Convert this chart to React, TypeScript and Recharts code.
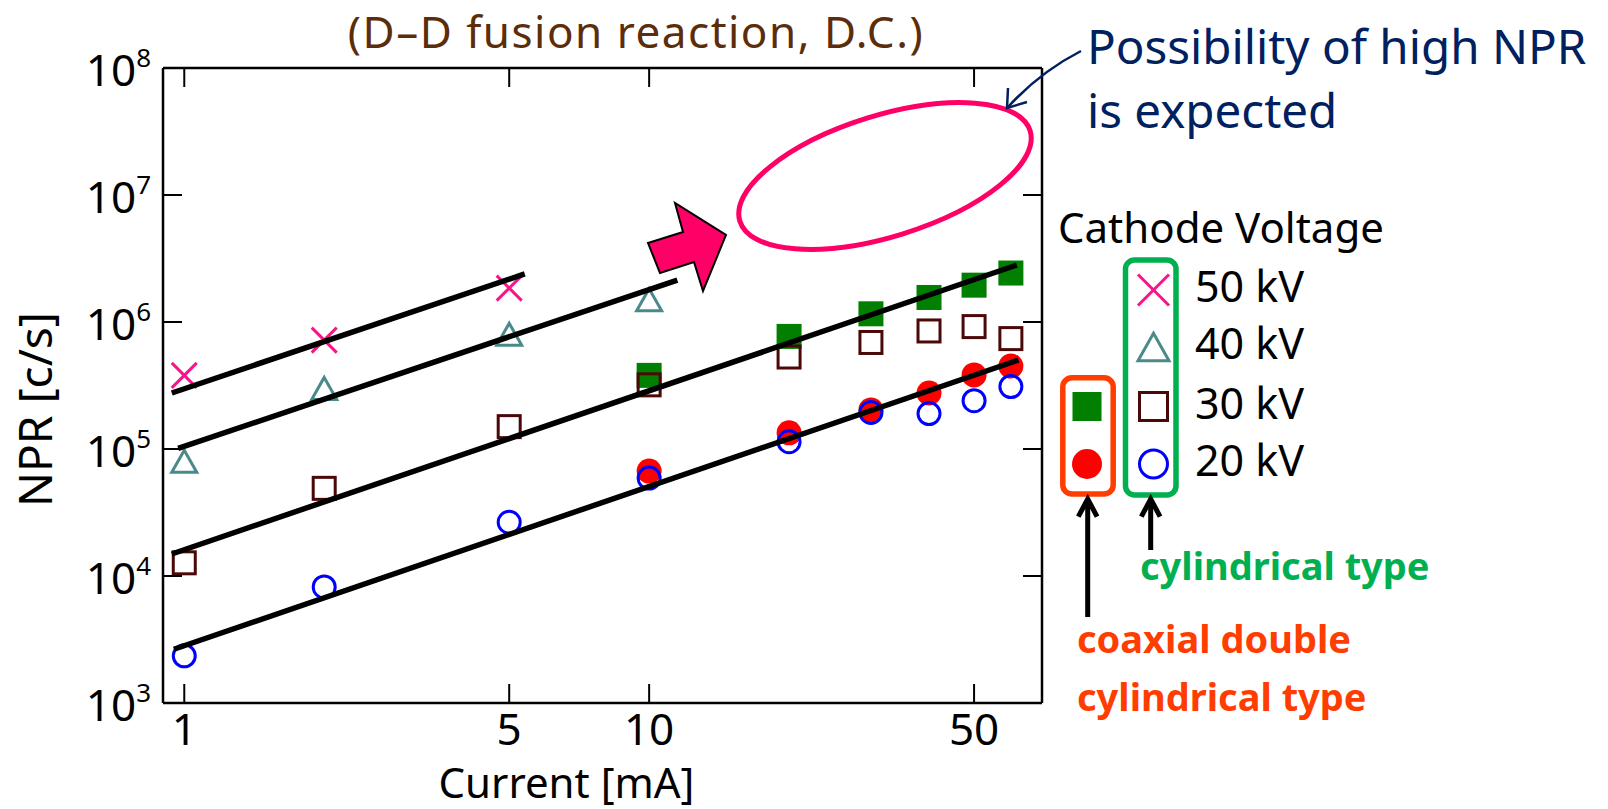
import React from "react";
import { ScatterChart, Scatter, XAxis, YAxis, ReferenceLine } from "recharts";

const FONT = "'Noto Sans', 'Liberation Sans', sans-serif";

// cylindrical type, current [mA] vs NPR [c/s]
const currents = [1, 2, 5, 10, 20, 30, 40, 50, 60];
const cyl50kV = [3.8e5, 7.2e5, 1.85e6];
const cyl40kV = [8.0e4, 3.0e5, 8.0e5, 1.5e6];
const cyl30kV = [1.27e4, 4.9e4, 1.5e5, 3.2e5, 5.3e5, 6.9e5, 8.5e5, 9.2e5, 7.4e5];
const cyl20kV = [2.35e3, 8.2e3, 2.65e4, 5.9e4, 1.14e5, 1.94e5, 1.9e5, 2.4e5, 3.1e5];

// coaxial double cylindrical type
const coaxCurrents = [10, 20, 30, 40, 50, 60];
const coax30kV = [3.8e5, 7.7e5, 1.16e6, 1.56e6, 1.95e6, 2.43e6];
const coax20kV = [6.7e4, 1.34e5, 2.03e5, 2.76e5, 3.83e5, 4.5e5];

// power-law fit lines: [current, NPR] end points
const fit50kV = [[0.94, 2.76e5], [5.4, 2.39e6]];
const fit40kV = [[0.97, 1.01e5], [11.5, 2.14e6]];
const fit30kV = [[0.94, 1.49e4], [61.8, 2.81e6]];
const fit20kV = [[0.95, 2.65e3], [62.3, 5.02e5]];

const currentTicks = [1, 5, 10, 50];
const nprTicks = [1e3, 1e4, 1e5, 1e6, 1e7, 1e8];
const voltageLabels = ["50 kV", "40 kV", "30 kV", "20 kV"];

const PINK = "#F7168A";
const TEAL = "#4A8A8A";
const BROWN = "#4A0808";
const BLUE = "#0000FF";
const GREEN = "#007F00";
const RED = "#FF0000";
const HOT = "#FF0066";
const NAVY = "#002060";
const CYL_GREEN = "#00B050";
const COAX_RED = "#FF3D00";

const W = 1608;
const H = 809;
const PLOT = { left: 163, right: 1042, top: 68, bottom: 703 };
const TICK_LEN = 19;

const toPoints = (xs: number[], ys: number[]) => ys.map((y, i) => ({ x: xs[i], y }));
const toLine = (pts: number[][]) => pts.map(([x, y]) => ({ x, y }));

type Kind = "cross" | "triangle" | "square" | "circle" | "filledSquare" | "filledCircle";

function Marker({ kind, cx, cy, size, color }: { kind: Kind; cx: number; cy: number; size: number; color: string }) {
  const h = size / 2;
  switch (kind) {
    case "cross":
      return (
        <g stroke={color} strokeWidth={3}>
          <line x1={cx - h} y1={cy - h} x2={cx + h} y2={cy + h} />
          <line x1={cx - h} y1={cy + h} x2={cx + h} y2={cy - h} />
        </g>
      );
    case "triangle": {
      const th = size * 0.88;
      return (
        <polygon
          points={`${cx},${cy - th / 2} ${cx + h},${cy + th / 2} ${cx - h},${cy + th / 2}`}
          fill="none"
          stroke={color}
          strokeWidth={3}
        />
      );
    }
    case "square":
      return <rect x={cx - h + 1.5} y={cy - h + 1.5} width={size - 3} height={size - 3} fill="none" stroke={color} strokeWidth={3} />;
    case "circle":
      return <circle cx={cx} cy={cy} r={h - 1.5} fill="none" stroke={color} strokeWidth={3} />;
    case "filledSquare":
      return <rect x={cx - h} y={cy - h} width={size} height={size} fill={color} />;
    default:
      return <circle cx={cx} cy={cy} r={h} fill={color} />;
  }
}

const markerShape = (kind: Kind, color: string) => (props: any) =>
  <Marker kind={kind} cx={props.cx} cy={props.cy} size={25} color={color} />;

function CurrentTick({ x, y, payload }: any) {
  return (
    <g>
      <line x1={x} x2={x} y1={PLOT.bottom} y2={PLOT.bottom - TICK_LEN} stroke="#000" strokeWidth={2} />
      <line x1={x} x2={x} y1={PLOT.top} y2={PLOT.top + TICK_LEN} stroke="#000" strokeWidth={2} />
      <text x={x} y={y + 42} textAnchor="middle" fontSize={44} fontFamily={FONT} fill="#000">
        {payload.value}
      </text>
    </g>
  );
}

function NprTick({ x, y, payload }: any) {
  const exp = Math.round(Math.log10(payload.value));
  return (
    <g>
      <line x1={PLOT.left} x2={PLOT.left + TICK_LEN} y1={y} y2={y} stroke="#000" strokeWidth={2} />
      <line x1={PLOT.right} x2={PLOT.right - TICK_LEN} y1={y} y2={y} stroke="#000" strokeWidth={2} />
      <text x={x - 12} y={y + 18} textAnchor="end" fontSize={44} fontFamily={FONT} fill="#000">
        10
        <tspan fontSize={26} dy={-19}>
          {exp}
        </tspan>
      </text>
    </g>
  );
}

function CurrentTitle({ viewBox }: any) {
  const vb = viewBox ?? { x: PLOT.left, y: PLOT.bottom, width: PLOT.right - PLOT.left, height: H - PLOT.bottom };
  return (
    <text x={vb.x + vb.width / 2 - 36} y={vb.y + 95} textAnchor="middle" fontSize={42} fontFamily={FONT} fill="#000">
      Current [mA]
    </text>
  );
}

function NprTitle({ viewBox }: any) {
  const vb = viewBox ?? { x: 0, y: PLOT.top, width: PLOT.left, height: PLOT.bottom - PLOT.top };
  const cy = vb.y + vb.height / 2 + 24;
  return (
    <text transform={`translate(${vb.x + 52}, ${cy}) rotate(-90)`} textAnchor="middle" fontSize={46} fontFamily={FONT} fill="#000">
      NPR [c/s]
    </text>
  );
}

function Annotations() {
  const cylKinds: Kind[] = ["cross", "triangle", "square", "circle"];
  const cylColors = [PINK, TEAL, BROWN, BLUE];
  const rowY = [290, 347, 406.5, 464];
  return (
    <svg width={W} height={H} style={{ position: "absolute", left: 0, top: 0, pointerEvents: "none" }} fontFamily={FONT}>
      <text x={636} y={48} textAnchor="middle" fontSize={44} fill="#5C2D0A" letterSpacing={1.5}>
        (D–D fusion reaction, D.C.)
      </text>

      {/* expected region */}
      <ellipse cx={885} cy={176} rx={152} ry={60.5} transform="rotate(-17.3 885 176)" fill="none" stroke={HOT} strokeWidth={5} />
      <polygon
        points="648,243 683,232 675,203 726,235 703,291 694,262 660,273"
        fill={HOT}
        stroke="#000"
        strokeWidth={2}
        strokeLinejoin="miter"
      />

      <text x={1087} y={64} fontSize={47.5} fill={NAVY}>Possibility of high NPR</text>
      <text x={1087} y={128} fontSize={47.5} fill={NAVY}>is expected</text>
      <path d="M1081,51 Q1040,72 1008,107" fill="none" stroke={NAVY} strokeWidth={2.5} />
      <polyline points="1008,88 1007,108 1027,102" fill="none" stroke={NAVY} strokeWidth={2.5} />

      {/* legend */}
      <text x={1058} y={243} fontSize={42} fill="#000">Cathode Voltage</text>
      <rect x={1125.5} y={260} width={50.5} height={235} rx={9} fill="none" stroke={CYL_GREEN} strokeWidth={5.5} />
      <rect x={1062.8} y={377.8} width={50.4} height={116.2} rx={9} fill="none" stroke={COAX_RED} strokeWidth={5.5} />
      {voltageLabels.map((label, i) => (
        <g key={label}>
          <Marker kind={cylKinds[i]} cx={1153.5} cy={rowY[i]} size={31} color={cylColors[i]} />
          <text x={1195} y={rowY[i] + 12} fontSize={43} fill="#000">{label}</text>
        </g>
      ))}
      <Marker kind="filledSquare" cx={1087} cy={rowY[2]} size={29} color={GREEN} />
      <Marker kind="filledCircle" cx={1087} cy={rowY[3]} size={30} color={RED} />

      <g stroke="#000" strokeWidth={5} fill="none">
        <line x1={1087.7} y1={617} x2={1087.7} y2={501} />
        <polyline points="1078.3,516.7 1087.7,499 1097.1,516.7" />
        <line x1={1150.7} y1={550} x2={1150.7} y2={501} />
        <polyline points="1141.3,516.7 1150.7,499 1160.1,516.7" />
      </g>
      <text x={1140} y={580} fontSize={38} fontWeight="bold" fill={CYL_GREEN}>cylindrical type</text>
      <text x={1077} y={653} fontSize={38} fontWeight="bold" fill={COAX_RED}>coaxial double</text>
      <text x={1077} y={711} fontSize={38} fontWeight="bold" fill={COAX_RED}>cylindrical type</text>
    </svg>
  );
}

export default function App() {
  return (
    <div style={{ position: "absolute", left: 0, top: 0, width: W, height: H, background: "#fff" }}>
      <ScatterChart width={W} height={H} margin={{ top: PLOT.top, right: W - PLOT.right, bottom: 0, left: 0 }}>
        <XAxis
          type="number"
          dataKey="x"
          scale="log"
          domain={[0.9, 70]}
          ticks={currentTicks}
          allowDataOverflow
          height={H - PLOT.bottom}
          tickSize={0}
          tickMargin={0}
          tickLine={false}
          axisLine={{ stroke: "#000", strokeWidth: 2.5 }}
          tick={<CurrentTick />}
          label={<CurrentTitle />}
        />
        <YAxis
          type="number"
          dataKey="y"
          scale="log"
          domain={[1e3, 1e8]}
          ticks={nprTicks}
          allowDataOverflow
          width={PLOT.left}
          tickSize={0}
          tickMargin={0}
          tickLine={false}
          axisLine={{ stroke: "#000", strokeWidth: 2.5 }}
          tick={<NprTick />}
          label={<NprTitle />}
        />
        <ReferenceLine y={1e8} stroke="#000" strokeWidth={2.5} />
        <ReferenceLine x={70} stroke="#000" strokeWidth={2.5} />

        <Scatter data={toPoints(coaxCurrents, coax30kV)} shape={markerShape("filledSquare", GREEN)} isAnimationActive={false} />
        <Scatter data={toPoints(coaxCurrents, coax20kV)} shape={markerShape("filledCircle", RED)} isAnimationActive={false} />
        <Scatter data={toPoints(currents, cyl30kV)} shape={markerShape("square", BROWN)} isAnimationActive={false} />
        <Scatter data={toPoints(currents, cyl20kV)} shape={markerShape("circle", BLUE)} isAnimationActive={false} />
        <Scatter data={toPoints(currents, cyl40kV)} shape={markerShape("triangle", TEAL)} isAnimationActive={false} />
        <Scatter data={toPoints(currents, cyl50kV)} shape={markerShape("cross", PINK)} isAnimationActive={false} />

        {[fit50kV, fit40kV, fit30kV, fit20kV].map((pts, i) => (
          <Scatter
            key={i}
            data={toLine(pts)}
            line={{ stroke: "#000", strokeWidth: 5.5 }}
            shape={() => <g />}
            isAnimationActive={false}
          />
        ))}
      </ScatterChart>
      <Annotations />
    </div>
  );
}
